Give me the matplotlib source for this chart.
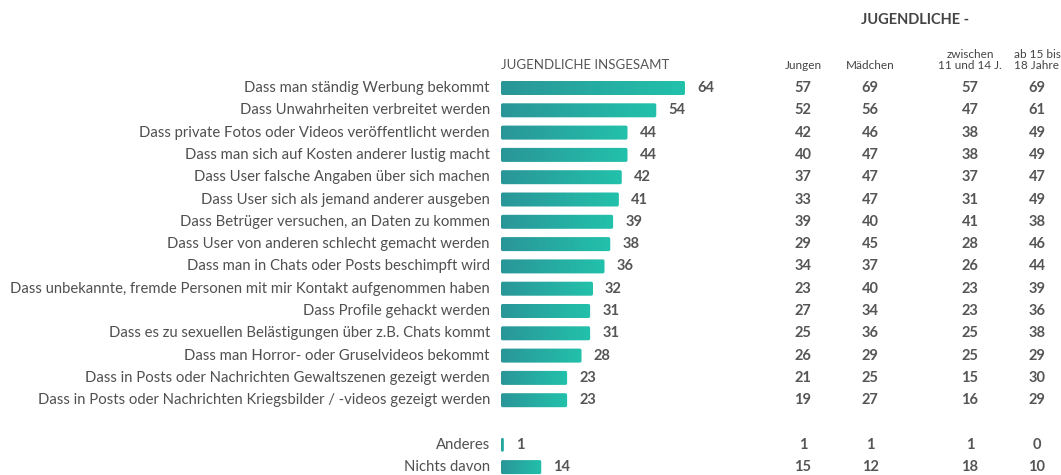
import matplotlib
matplotlib.use("Agg")
import matplotlib.pyplot as plt
import numpy as np
from matplotlib.patches import FancyBboxPatch
from matplotlib.colors import LinearSegmentedColormap
import matplotlib.transforms as mtransforms

plt.rcParams['font.family'] = ['Lato', 'DejaVu Sans']

categories = [
    "Dass man ständig Werbung bekommt",
    "Dass Unwahrheiten verbreitet werden",
    "Dass private Fotos oder Videos veröffentlicht werden",
    "Dass man sich auf Kosten anderer lustig macht",
    "Dass User falsche Angaben über sich machen",
    "Dass User sich als jemand anderer ausgeben",
    "Dass Betrüger versuchen, an Daten zu kommen",
    "Dass User von anderen schlecht gemacht werden",
    "Dass man in Chats oder Posts beschimpft wird",
    "Dass unbekannte, fremde Personen mit mir Kontakt aufgenommen haben",
    "Dass Profile gehackt werden",
    "Dass es zu sexuellen Belästigungen über z.B. Chats kommt",
    "Dass man Horror- oder Gruselvideos bekommt",
    "Dass in Posts oder Nachrichten Gewaltszenen gezeigt werden",
    "Dass in Posts oder Nachrichten Kriegsbilder / -videos gezeigt werden",
    "Anderes",
    "Nichts davon",
]
total = [64, 54, 44, 44, 42, 41, 39, 38, 36, 32, 31, 31, 28, 23, 23, 1, 14]
jungen = [57, 52, 42, 40, 37, 33, 39, 29, 34, 23, 27, 25, 26, 21, 19, 1, 15]
maedchen = [69, 56, 46, 47, 47, 47, 40, 45, 37, 40, 34, 36, 29, 25, 27, 1, 12]
age_11_14 = [57, 47, 38, 38, 37, 31, 41, 28, 26, 23, 23, 25, 25, 15, 16, 1, 18]
age_15_18 = [69, 61, 49, 49, 47, 49, 38, 46, 44, 39, 36, 38, 29, 30, 29, 0, 10]
col_headers = ["Jungen", "Mädchen", "zwischen\n11 und 14 J.", "ab 15 bis\n18 Jahre"]
group_title = "JUGENDLICHE -"
bar_title = "JUGENDLICHE INSGESAMT"

W, H = 1061, 475
fig = plt.figure(figsize=(W / 100, H / 100), dpi=100)
ax = fig.add_axes([0, 0, 1, 1])
x0_px, ppu = 501, 2.875
y0_px, row_px = 88, 22.3
ax.set_xlim(-x0_px / ppu, (W - x0_px) / ppu)
ax.set_ylim((H - y0_px) / row_px, -y0_px / row_px)
ax.axis('off')

ypos = list(range(15)) + [16, 17]
bar_h = 14 / row_px
cmap = LinearSegmentedColormap.from_list("g", ["#2a9598", "#22c2ab"])
grad = np.linspace(0, 1, 256)[None, :]
text_col = "#555555"

for y, v, lab in zip(ypos, total, categories):
    w = max(v, 0.7)
    patch = FancyBboxPatch((0, y - bar_h / 2), w, bar_h,
                           boxstyle="round,pad=0,rounding_size=0.6",
                           mutation_aspect=ppu / row_px,
                           linewidth=0, facecolor="none", edgecolor="none")
    ax.add_patch(patch)
    im = ax.imshow(grad, cmap=cmap, aspect='auto', interpolation='bilinear',
                   extent=(-0.5, w + 0.5, y + bar_h / 2 + 0.1, y - bar_h / 2 - 0.1),
                   zorder=2)
    im.set_clip_path(patch)
    ax.text(w + 12 / ppu, y, str(v), ha='left', va='center', fontsize=10.5,
            fontweight='bold', color=text_col)
    ax.text(-11 / ppu, y, lab, ha='right', va='center', fontsize=10.7,
            color="#505050")

ax.set_xlim(-x0_px / ppu, (W - x0_px) / ppu)
ax.set_ylim((H - y0_px) / row_px, -y0_px / row_px)

trans = mtransforms.blended_transform_factory(fig.transFigure, ax.transData)
col_x = [803, 870, 970, 1037]
for cx, vals, hdr in zip(col_x, [jungen, maedchen, age_11_14, age_15_18], col_headers):
    for y, v in zip(ypos, vals):
        ax.text(cx / W, y, str(v), transform=trans, ha='center', va='center',
                fontsize=10.5, fontweight='bold', color=text_col)
    fig.text(cx / W, 1 - 71 / H, hdr, ha='center', va='bottom', fontsize=8.5,
             color="#444444", linespacing=1.0)

fig.text(915 / W, 1 - 20 / H, group_title, ha='center', va='center',
         fontsize=10.5, fontweight='bold', color="#444444")
fig.text(501 / W, 1 - 65 / H, bar_title, ha='left', va='center',
         fontsize=9.5, color="#555555")

fig.savefig("out.png", dpi=100)
